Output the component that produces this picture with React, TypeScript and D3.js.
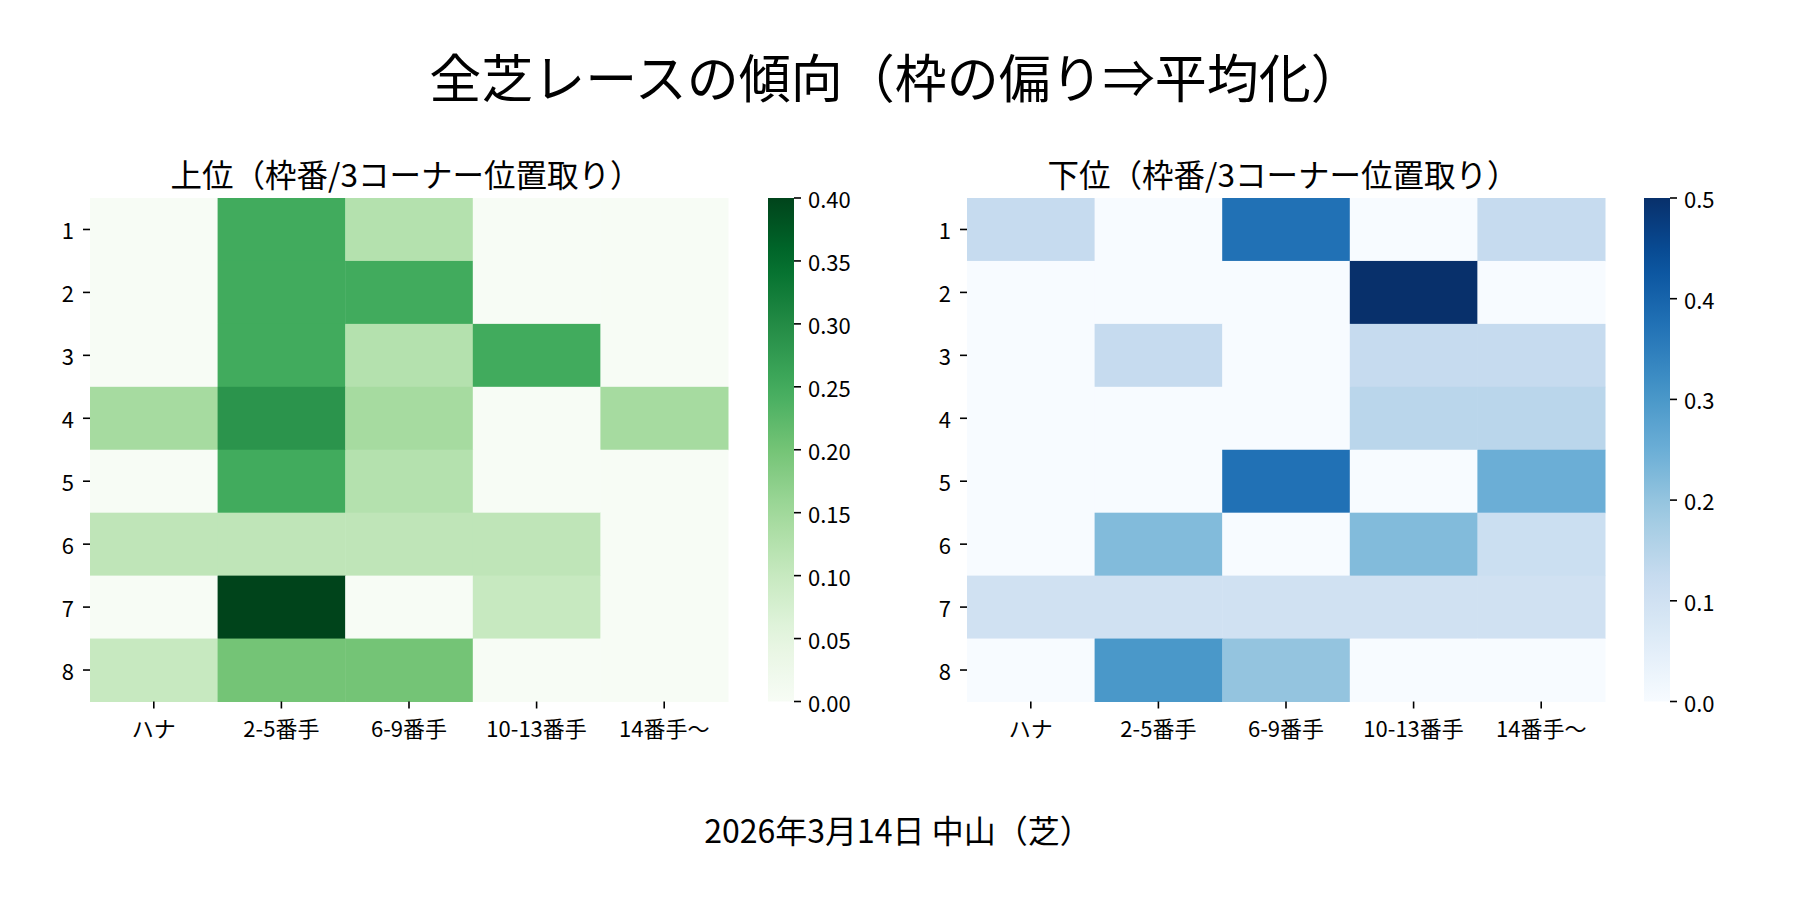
import * as React from "react";
import * as d3 from "d3";

const rowLabels = ["1", "2", "3", "4", "5", "6", "7", "8"];
const colLabels = ["ハナ", "2-5番手", "6-9番手", "10-13番手", "14番手〜"];

// 上位 (Greens, 0–0.4)
const upperValues = [
  [0, 0.25, 0.125, 0, 0],
  [0, 0.25, 0.25, 0, 0],
  [0, 0.25, 0.125, 0.25, 0],
  [0.143, 0.286, 0.143, 0, 0.143],
  [0, 0.25, 0.125, 0, 0],
  [0.111, 0.111, 0.111, 0.111, 0],
  [0, 0.4, 0, 0.1, 0],
  [0.1, 0.2, 0.2, 0, 0],
];
const upperTicks = [0, 0.05, 0.1, 0.15, 0.2, 0.25, 0.3, 0.35, 0.4];

// 下位 (Blues, 0–0.5)
const lowerValues = [
  [0.125, 0, 0.375, 0, 0.125],
  [0, 0, 0, 0.5, 0],
  [0, 0.125, 0, 0.125, 0.125],
  [0, 0, 0, 0.143, 0.143],
  [0, 0, 0.375, 0, 0.25],
  [0, 0.222, 0, 0.222, 0.111],
  [0.1, 0.1, 0.1, 0.1, 0.1],
  [0, 0.3, 0.2, 0, 0],
];
const lowerTicks = [0, 0.1, 0.2, 0.3, 0.4, 0.5];

const mainTitle = "全芝レースの傾向（枠の偏り⇒平均化）";
const upperTitle = "上位（枠番/3コーナー位置取り）";
const lowerTitle = "下位（枠番/3コーナー位置取り）";
const caption = "2026年3月14日 中山（芝）";

const FONT = '"Noto Sans CJK JP", "Noto Sans", sans-serif';
const INK = "#000";

// matplotlib-style linear segmented colormap from the 9-step brewer scheme
const makeCmap = (scheme: readonly string[], vmax: number) => {
  const stops = d3.range(scheme.length).map(i => (i / (scheme.length - 1)) * vmax);
  return d3
    .scaleLinear<string>()
    .domain(stops)
    .range(scheme as string[])
    .interpolate(d3.interpolateRgb)
    .clamp(true);
};

const Heatmap = props => {
  const { x0, y0, w, h, values, cmap, vmax, ticks, fmt, title, cbX, gradId } = props;
  const xs = d3.scaleBand().domain(colLabels).range([x0, x0 + w]);
  const ys = d3.scaleBand().domain(rowLabels).range([y0, y0 + h]);
  const cbW = 26;
  const cy = d3.scaleLinear().domain([0, vmax]).range([y0 + h, y0]);
  const format = d3.format(fmt);
  const gradStops = d3.range(0, 1.0001, 0.05);

  return (
    <g>
      <text
        x={x0 + w / 2 - 3}
        y={173}
        textAnchor="middle"
        dominantBaseline="central"
        fontSize={31.5}
        fill={INK}
      >
        {title}
      </text>
      {values.map((row, i) =>
        row.map((v, j) => (
          <rect
            key={`${i}-${j}`}
            x={xs(colLabels[j])}
            y={ys(rowLabels[i])}
            width={xs.bandwidth() + 0.5}
            height={ys.bandwidth() + 0.5}
            fill={cmap(v)}
          />
        ))
      )}
      {rowLabels.map(r => {
        const yy = ys(r) + ys.bandwidth() / 2;
        return (
          <g key={r}>
            <line x1={x0 - 7} x2={x0} y1={yy} y2={yy} stroke={INK} strokeWidth={1.6} />
            <text x={x0 - 16} y={yy} textAnchor="end" dominantBaseline="central" fontSize={22} fill={INK}>
              {r}
            </text>
          </g>
        );
      })}
      {colLabels.map(c => {
        const xx = xs(c) + xs.bandwidth() / 2;
        return (
          <g key={c}>
            <line x1={xx} x2={xx} y1={y0 + h} y2={y0 + h + 7} stroke={INK} strokeWidth={1.6} />
            <text x={xx} y={y0 + h + 25} textAnchor="middle" dominantBaseline="central" fontSize={22} fill={INK}>
              {c}
            </text>
          </g>
        );
      })}
      <defs>
        <linearGradient id={gradId} x1="0" y1="1" x2="0" y2="0">
          {gradStops.map(t => (
            <stop key={t} offset={t} stopColor={cmap(t * vmax)} />
          ))}
        </linearGradient>
      </defs>
      <rect x={cbX} y={y0} width={cbW} height={h} fill={`url(#${gradId})`} />
      {ticks.map(t => (
        <g key={t}>
          <line x1={cbX + cbW} x2={cbX + cbW + 7} y1={cy(t)} y2={cy(t)} stroke={INK} strokeWidth={1.6} />
          <text x={cbX + cbW + 14} y={cy(t)} dominantBaseline="central" fontSize={22} fill={INK}>
            {format(t)}
          </text>
        </g>
      ))}
    </g>
  );
};

const App = () => {
  const greens = makeCmap(d3.schemeGreens[9], 0.4);
  const blues = makeCmap(d3.schemeBlues[9], 0.5);
  const top = 198;
  const h = 503.5;
  const w = 638;

  return (
    <div style={{ position: "fixed", left: 0, top: 0, background: "#fff" }}>
      <svg width={1800} height={900} style={{ display: "block", fontFamily: FONT }}>
        <rect width={1800} height={900} fill="#fff" />
        <text x={896} y={75} textAnchor="middle" dominantBaseline="central" fontSize={52} fill={INK}>
          {mainTitle}
        </text>
        <Heatmap
          x0={90}
          y0={top}
          w={w}
          h={h}
          values={upperValues}
          cmap={greens}
          vmax={0.4}
          ticks={upperTicks}
          fmt=".2f"
          title={upperTitle}
          cbX={768}
          gradId="gradGreens"
        />
        <Heatmap
          x0={967}
          y0={top}
          w={w}
          h={h}
          values={lowerValues}
          cmap={blues}
          vmax={0.5}
          ticks={lowerTicks}
          fmt=".1f"
          title={lowerTitle}
          cbX={1644}
          gradId="gradBlues"
        />
        <text x={898} y={829} textAnchor="middle" dominantBaseline="central" fontSize={32} fill={INK}>
          {caption}
        </text>
      </svg>
    </div>
  );
};

export default App;
